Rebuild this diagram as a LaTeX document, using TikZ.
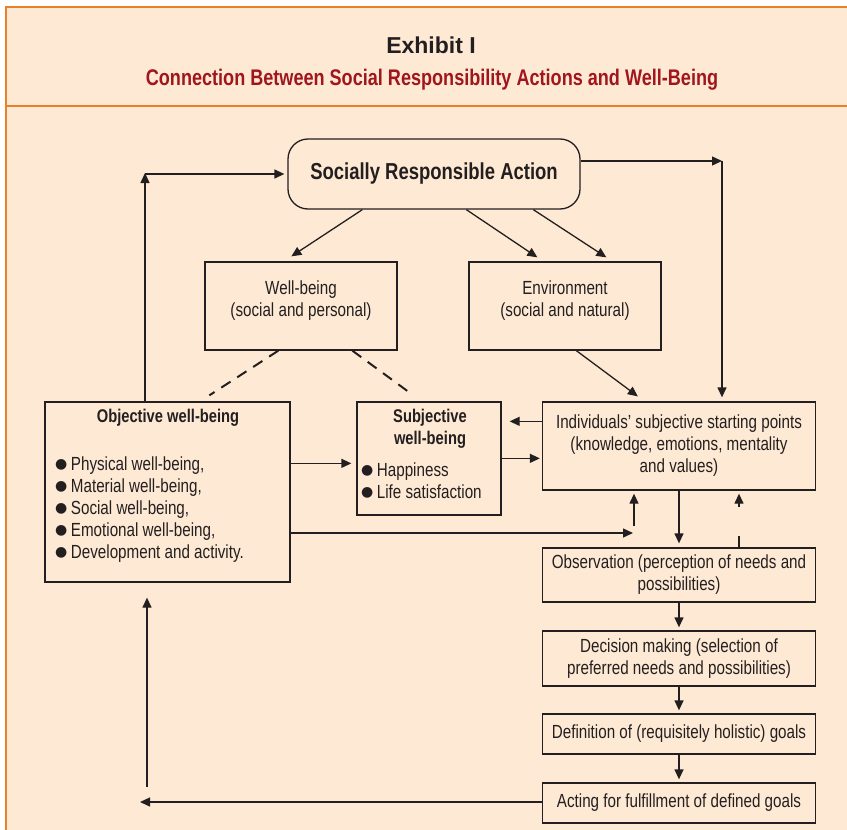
\documentclass[tikz,border=0pt]{standalone}
\usepackage{fontspec}
\setmainfont{Liberation Sans}[FakeStretch=0.8]
\newfontfamily\hfont{Liberation Sans}
\newfontfamily\symf{DejaVu Sans}
\usetikzlibrary{arrows.meta,calc}
\definecolor{cream}{RGB}{254,234,212}
\definecolor{orng}{RGB}{232,130,42}
\definecolor{dred}{RGB}{160,22,28}
\definecolor{ink}{RGB}{35,31,32}
\newcommand{\bul}{{\symf\fontsize{14}{14}\selectfont\raisebox{2pt}{●}}\hspace{3.5pt}}
\tikzset{
  box/.style={draw=ink, line width=1.3pt, inner sep=0pt, align=center, text=ink,
    font=\fontsize{19}{22}\selectfont},
  txt/.style={inner sep=0pt, align=center, text=ink, font=\fontsize{19}{22}\selectfont},
  lst/.style={inner sep=0pt, align=left, text=ink, font=\fontsize{19}{22}\selectfont, anchor=north west},
  hd/.style={inner sep=0pt, align=center, text=ink, font=\bfseries\fontsize{18.4}{22}\selectfont},
  arr/.style={draw=ink, line width=1.3pt, -{Triangle[length=10pt,width=9pt]}},
  plain/.style={draw=ink, line width=1.3pt},
  dsh/.style={draw=ink, line width=2pt, dash pattern=on 11pt off 8pt},
}
\begin{document}
\begin{tikzpicture}[x=1pt,y=-1pt]
\useasboundingbox (0,0) rectangle (847,830);
\fill[white] (0,0) rectangle (847,830);
\fill[cream] (6,7) rectangle (847,830);
\draw[orng, line width=2pt] (847,7) -- (6,7) -- (6,830);
\draw[orng, line width=1.6pt] (6,106) -- (847,106);

\node[inner sep=0pt, text=ink, font=\hfont\bfseries\fontsize{23}{26}\selectfont] (ttl) at (431,45) {Exhibit I};
\node[inner sep=0pt, text=dred, font=\bfseries\fontsize{22.6}{26}\selectfont] (sub) at (432,80) {Connection Between Social Responsibility Actions and Well-Being};

% boxes
\node[box, rounded corners=20pt, minimum width=292pt, minimum height=70pt,
  font=\bfseries\fontsize{23.1}{26}\selectfont] (sra) at (434,174) {Socially Responsible Action};
\node[box, minimum width=192pt, minimum height=88pt] (wb) at (301,306) {};
\node[txt] (wbt) at (301,301) {Well-being\\(social and personal)};
\node[box, minimum width=192pt, minimum height=88pt] (env) at (565,306) {};
\node[txt] (envt) at (565,301) {Environment\\(social and natural)};

\node[box, minimum width=245pt, minimum height=180pt] (obj) at (167.5,492) {};
\node[hd] (objt) at (168,418) {Objective well-being};
\node[lst] (objl) at (55,457) {\bul Physical well-being,\\\bul Material well-being,\\\bul Social well-being,\\\bul Emotional well-being,\\\bul Development and activity.};

\node[box, minimum width=144pt, minimum height=113pt] (subj) at (429,458.5) {};
\node[hd] (subt) at (430,429) {Subjective\\well-being};
\node[lst] (subl) at (361,463) {\bul Happiness\\\bul Life satisfaction};

\node[box, minimum width=273pt, minimum height=88pt] (ind) at (679,446)
  {Individuals’ subjective starting points\\(knowledge, emotions, mentality\\and values)};
\node[box, minimum width=273pt, minimum height=54pt] (obs) at (679,575)
  {Observation (perception of needs and\\possibilities)};
\node[box, minimum width=273pt, minimum height=55pt] (dec) at (679,658.5)
  {Decision making (selection of\\preferred needs and possibilities)};
\node[box, minimum width=273pt, minimum height=40pt] (def) at (679,734)
  {Definition of (requisitely holistic) goals};
\node[box, minimum width=273pt, minimum height=40pt] (act) at (679,803)
  {Acting for fulfillment of defined goals};

% connectors
\coordinate (cl) at (145,174);
\draw[arr, shorten >=-1pt] (cl |- obj.north) -- (cl);
\draw[arr, shorten >=3pt] (cl) -- (sra.west);
\coordinate (cr) at (722,161);
\draw[arr] (sra.east |- cr) -- (cr);
\draw[arr, shorten >=4pt] (cr) -- (cr |- ind.north);

\draw[arr] ([xshift=75pt]sra.south west) -- ([xshift=87pt,yshift=5pt]wb.north west);
\draw[arr] ([xshift=179pt]sra.south west) -- ([xshift=69pt,yshift=4pt]env.north west);
\draw[arr] ([xshift=246pt]sra.south west) -- ([xshift=138pt,yshift=4pt]env.north west);

\draw[dsh] ([xshift=74pt]wb.south west) -- ([xshift=165pt,yshift=6pt]obj.north west);
\draw[dsh] ([xshift=148pt]wb.south west) -- ([xshift=57pt,yshift=6pt]subj.north west);
\draw[arr] ([xshift=108pt]env.south west) -- ([xshift=96pt,yshift=5pt]ind.north west);

\draw[arr, shorten >=5pt] ([yshift=-62pt]obj.north east) -- ([yshift=-62pt]obj.north east -| subj.west);
\draw[arr, shorten >=2pt] ([yshift=-57pt]subj.north east) -- ([yshift=-57pt]subj.north east -| ind.west);
\draw[arr, shorten >=8pt] ([yshift=-20pt]ind.north west) -- ([yshift=-20pt]ind.north west -| subj.east);

\coordinate (cm) at (633,533);
\draw[arr] (obj.east |- cm) -- (cm);
\coordinate (cu) at (634,526);
\draw[arr, shorten >=3pt] (cu) -- (cu |- ind.south);

\draw[arr, shorten >=4pt] (ind.south) -- (obs.north);
\draw[arr, dash pattern=on 11pt off 29pt on 40pt, shorten >=3pt] ([xshift=60pt]obs.north) -- ([xshift=60pt]ind.south);
\draw[arr, shorten >=3pt] (obs.south) -- (dec.north);
\draw[arr, shorten >=3pt] (dec.south) -- (def.north);
\draw[arr, shorten >=3pt] (def.south) -- (act.north);

\coordinate (cb) at (140,802);
\draw[arr] (act.west |- cb) -- (cb);
\coordinate (cv) at (147,787);
\draw[arr, shorten >=15pt] (cv) -- (cv |- obj.south);
\end{tikzpicture}
\end{document}
